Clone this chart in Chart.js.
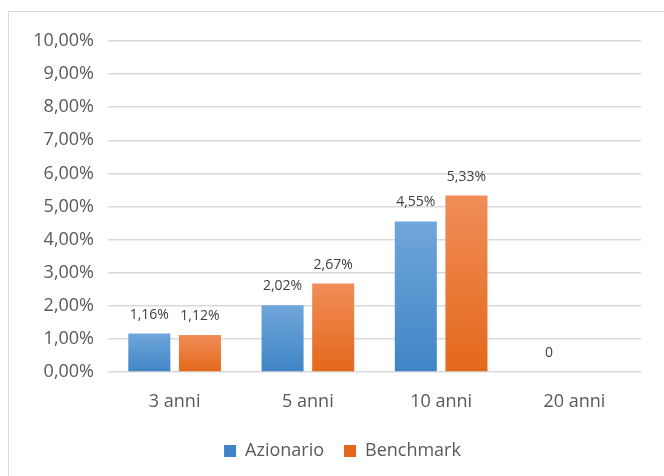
<!DOCTYPE html>
<html>
<head>
<meta charset="utf-8">
<script src="https://cdn.jsdelivr.net/npm/chart.js@4/dist/chart.umd.min.js"></script>
<style>
  body { margin: 0; background: #fff; }
  #frame { position: absolute; left: 8px; top: 11px; width: 700px; height: 500px; border: 1px solid #d9d9d9; }
  #graph { position: absolute; left: 0; top: 0; }
</style>
</head>
<body>
<div id="frame"></div>
<canvas id="graph" width="664" height="476"></canvas>
<script>
let categories = ["3 anni", "5 anni", "10 anni", "20 anni"];
let azionario = [1.16, 2.02, 4.55, 0];
let benchmark = [1.12, 2.67, 5.33, null];
let yTicks = [0, 1, 2, 3, 4, 5, 6, 7, 8, 9, 10];

function formatPct(v) {
    if (v === 0) return "0";
    return v.toFixed(2).replace('.', ',') + '%';
}

function gradient(top, bottom) {
    return function (context) {
        let chart = context.chart;
        let area = chart.chartArea;
        if (!area) return bottom;
        let v = context.raw || 0;
        let y = chart.scales.y.getPixelForValue(v);
        let g = chart.ctx.createLinearGradient(0, y, 0, area.bottom);
        g.addColorStop(0, top);
        g.addColorStop(1, bottom);
        return g;
    };
}

// etichette dei valori sopra le barre
let valueLabels = {
    id: 'valueLabels',
    afterDatasetsDraw(chart) {
        let ctx = chart.ctx;
        ctx.save();
        ctx.font = '14px "Open Sans"';
        ctx.fillStyle = '#404040';
        ctx.textAlign = 'center';
        ctx.textBaseline = 'middle';
        chart.data.datasets.forEach((ds, i) => {
            chart.getDatasetMeta(i).data.forEach((bar, j) => {
                let v = ds.data[j];
                if (v === null || v === undefined) return;
                ctx.fillText(formatPct(v), bar.x, bar.y - 19);
            });
        });
        ctx.restore();
    }
};

// legenda centrata sotto l'area del grafico
let legendShift = {
    id: 'legendShift',
    afterLayout(chart) {
        chart.legend.left += 22;
        chart.legend.right += 22;
    }
};

let graph = document.getElementById('graph').getContext('2d');

let stat = new Chart(graph, {
    type: "bar",
    data: {
        labels: categories,
        datasets: [{
            label: "Azionario",
            data: azionario,
            backgroundColor: gradient('#70a6db', '#3f85c6'),
            categoryPercentage: 0.76,
            barPercentage: 0.83
        }, {
            label: "Benchmark",
            data: benchmark,
            backgroundColor: gradient('#f08d58', '#e4681a'),
            categoryPercentage: 0.76,
            barPercentage: 0.83
        }]
    },
    options: {
        responsive: false,
        animation: false,
        layout: { padding: { top: 41, right: 23, left: 0, bottom: 6 } },
        plugins: {
            tooltip: { enabled: false },
            legend: {
                position: 'bottom',
                labels: {
                    boxWidth: 12,
                    boxHeight: 12,
                    color: '#595959',
                    font: { family: 'Open Sans', size: 18 },
                    padding: 20
                }
            }
        },
        scales: {
            x: {
                grid: { display: false },
                border: { display: false },
                ticks: { color: '#595959', font: { family: 'Open Sans', size: 18 }, padding: 11 },
                afterFit(scale) { scale.height = 50; }
            },
            y: {
                min: 0,
                max: 10,
                afterBuildTicks(scale) { scale.ticks = yTicks.map(v => ({ value: v })); },
                grid: { color: '#d9d9d9', lineWidth: 1.5, drawTicks: false },
                border: { display: false },
                ticks: {
                    color: '#595959',
                    font: { family: 'Open Sans', size: 18 },
                    padding: 14,
                    callback: v => v.toFixed(2).replace('.', ',') + '%'
                },
                afterFit(scale) { scale.width = 108; }
            }
        }
    },
    plugins: [valueLabels, legendShift]
});
</script>
</body>
</html>
